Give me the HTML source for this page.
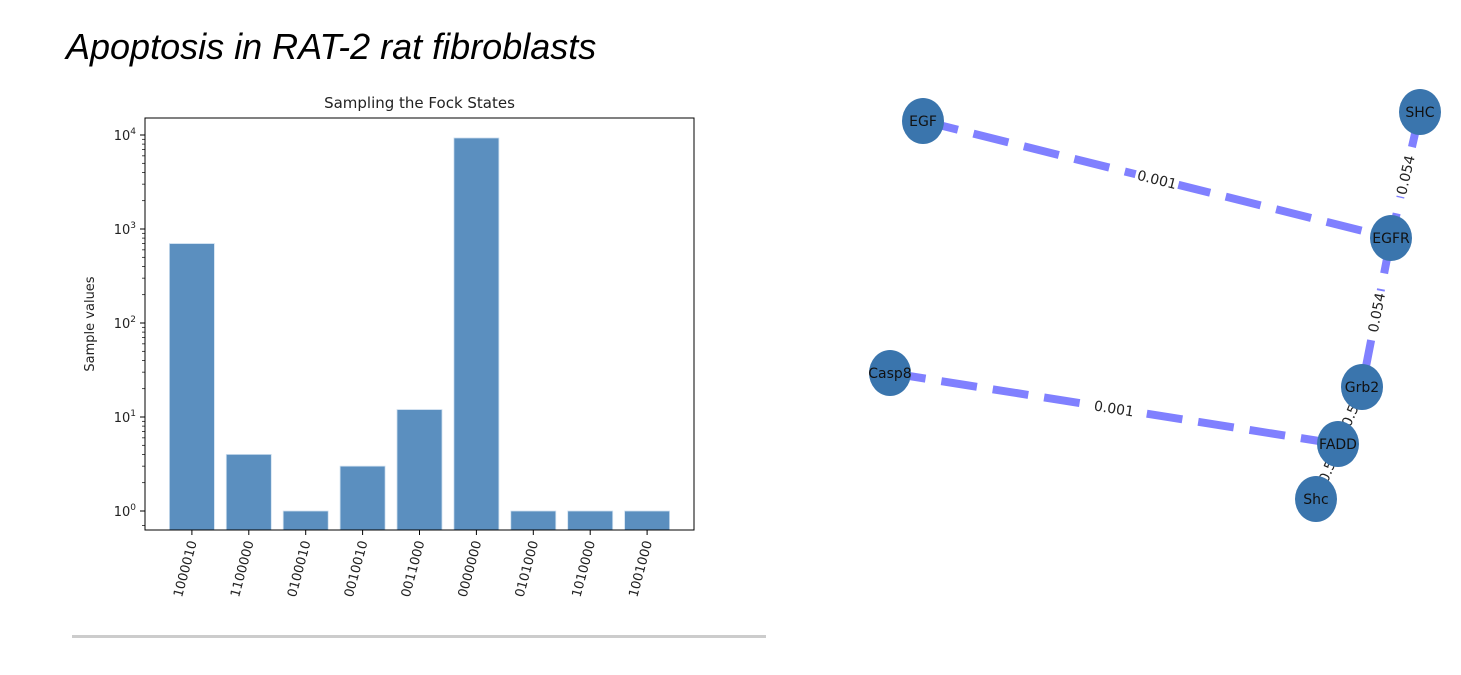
<!DOCTYPE html>
<html><head><meta charset="utf-8"><style>
body{margin:0;background:#fff;width:1461px;height:675px;overflow:hidden;font-family:"Liberation Sans","DejaVu Sans",sans-serif}
</style></head><body>
<div style="position:absolute;left:66px;top:26px;font-size:36px;font-style:italic;color:#000">Apoptosis in RAT-2 rat fibroblasts</div>
<div style="position:absolute;left:72px;top:635px;width:694px;height:3px;background:#ccc"></div>
<svg id="bar" width="1461" height="675" style="position:absolute;left:0;top:0" font-family="DejaVu Sans, sans-serif"></svg>
<svg id="net" width="1461" height="675" style="position:absolute;left:0;top:0" font-family="DejaVu Sans, sans-serif"></svg>
<script>
const categories=["1000010","1100000","0100010","0010010","0011000","0000000","0101000","1010000","1001000"];
const values=[700,4,1,3,12,9300,1,1,1];
const tickExps=[0,1,2,3,4];
const NS="http://www.w3.org/2000/svg";
function mk(p,t,a){const e=document.createElementNS(NS,t);for(const k in a)e.setAttribute(k,a[k]);p.appendChild(e);return e;}
const svg=document.getElementById('bar');
const L=145,R=694,T=118,B=530,y0=511,dec=94;
const y=v=>y0-Math.log10(v)*dec;
const step=56.9, x0=L+(R-L-step*(categories.length-1))/2;
const x=i=>x0+i*step;
categories.forEach((c,i)=>{
  const r=mk(svg,'rect',{x:x(i)-22.5,y:y(values[i]),width:45,height:B-y(values[i]),fill:'#5b8fbf',stroke:'#cfe0f0','stroke-width':0.8});
  
  
  mk(svg,'line',{x1:x(i),x2:x(i),y1:B,y2:B+5,stroke:'#000'});
  const t=mk(svg,'text',{x:0,y:0,'font-size':13,fill:'#222','text-anchor':'end',transform:`translate(${x(i)+5},${B+12}) rotate(-75)`});
  t.textContent=c;
  
  
});
tickExps.forEach(e=>{
  const yy=y(Math.pow(10,e));
  mk(svg,'line',{x1:L-5,x2:L,y1:yy,y2:yy,stroke:'#000'});
  const t=mk(svg,'text',{x:L-9,y:yy+5,'font-size':13,fill:'#222','text-anchor':'end'});
  t.innerHTML='10<tspan dy="-6" font-size="9">'+e+'</tspan>';
  
  
  for(let m=2;m<10;m++){const v=Math.pow(10,e)*m,ym=y(v);if(ym>T&&ym<B)mk(svg,'line',{x1:L-3,x2:L,y1:ym,y2:ym,stroke:'#000','stroke-width':0.7});}
});
{const ym=y(0.7);mk(svg,'line',{x1:L-3,x2:L,y1:ym,y2:ym,stroke:'#000','stroke-width':0.7});}
mk(svg,'rect',{x:L,y:T,width:R-L,height:B-T,fill:'none',stroke:'#000','stroke-width':1});
let t=mk(svg,'text',{x:(L+R)/2,y:108,'font-size':15,'text-anchor':'middle',fill:'#222'});t.textContent='Sampling the Fock States';

t=mk(svg,'text',{x:0,y:0,'font-size':13,'text-anchor':'middle',fill:'#222',transform:'translate(94,324) rotate(-90)'});t.textContent='Sample values';


// network
const nodeNames=["EGF","SHC","EGFR","Casp8","Grb2","FADD","Shc"];
const nodeX=[923,1420,1391,890,1362,1338,1316];
const nodeY=[121,112,238,373,387,444,499];
const edgeFrom=[0,1,2,3,4,5];
const edgeTo=[2,2,4,5,5,6];
const edgeLabels=["0.001","0.054","0.054","0.001","0.5","0.5"];
const net=document.getElementById('net');
edgeFrom.forEach((a,i)=>{
  const b=edgeTo[i];
  const l=mk(net,'line',{x1:nodeX[a],y1:nodeY[a],x2:nodeX[b],y2:nodeY[b],stroke:'#8080ff','stroke-width':8,'stroke-dasharray':'36,16'});
  
  
});
edgeFrom.forEach((a,i)=>{
  const b=edgeTo[i];
  const mx=(nodeX[a]+nodeX[b])/2,my=(nodeY[a]+nodeY[b])/2;
  let ang=Math.atan2(nodeY[b]-nodeY[a],nodeX[b]-nodeX[a])*180/Math.PI;
  if(ang>90)ang-=180;if(ang<-90)ang+=180;
  const g=mk(net,'g',{transform:`translate(${mx},${my}) rotate(${ang})`});
  mk(g,'rect',{x:-22,y:-8,width:44,height:16,fill:'#fff'});
  const tx=mk(g,'text',{x:0,y:5,'font-size':14,'text-anchor':'middle',fill:'#222'});tx.textContent=edgeLabels[i];
  
});
nodeNames.forEach((n,i)=>{
  const c=mk(net,'ellipse',{cx:nodeX[i],cy:nodeY[i],rx:21,ry:23,fill:'#3a75ad'});
  
  
  const tx=mk(net,'text',{x:nodeX[i],y:nodeY[i]+5,'font-size':14,'text-anchor':'middle',fill:'#111'});tx.textContent=n;
  
});
</script>
</body></html>
